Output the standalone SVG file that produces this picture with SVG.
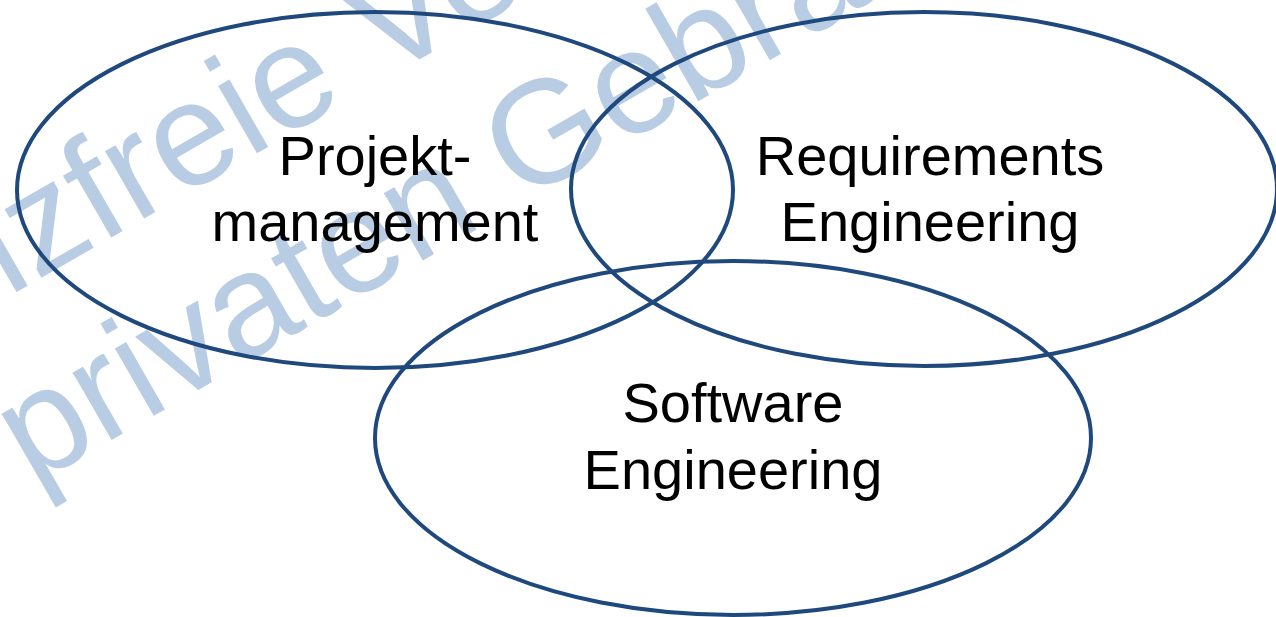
<svg xmlns="http://www.w3.org/2000/svg" width="1276" height="617" viewBox="0 0 1276 617">
  <style>
    .wm { font-family: "Liberation Sans", Arial, sans-serif; font-size: 147px; fill: #b8cde4; }
    .set { fill: none; stroke: #1f497d; stroke-width: 4; }
    .lbl { font-family: "Liberation Sans", Arial, sans-serif; font-size: 56px; fill: #000; text-anchor: middle; }
  </style>
  <rect width="1276" height="617" fill="#ffffff"/>
  <g id="watermark">
    <text class="wm" transform="translate(8,297) rotate(-30)">izfreie Ve</text>
    <text class="wm" transform="translate(32,486) rotate(-30)">privaten Gebra</text>
  </g>
  <g id="projektmanagement">
    <ellipse class="set" cx="375" cy="190" rx="358" ry="178"/>
    <text class="lbl" x="375" y="175">Projekt-</text>
    <text class="lbl" x="375" y="241">management</text>
  </g>
  <g id="requirements-engineering">
    <ellipse class="set" cx="924" cy="189" rx="353" ry="177"/>
    <text class="lbl" x="930" y="175">Requirements</text>
    <text class="lbl" x="930" y="241">Engineering</text>
  </g>
  <g id="software-engineering">
    <ellipse class="set" cx="733" cy="438" rx="358" ry="177"/>
    <text class="lbl" x="733" y="422">Software</text>
    <text class="lbl" x="733" y="489">Engineering</text>
  </g>
  <g id="connectors"/>
</svg>
